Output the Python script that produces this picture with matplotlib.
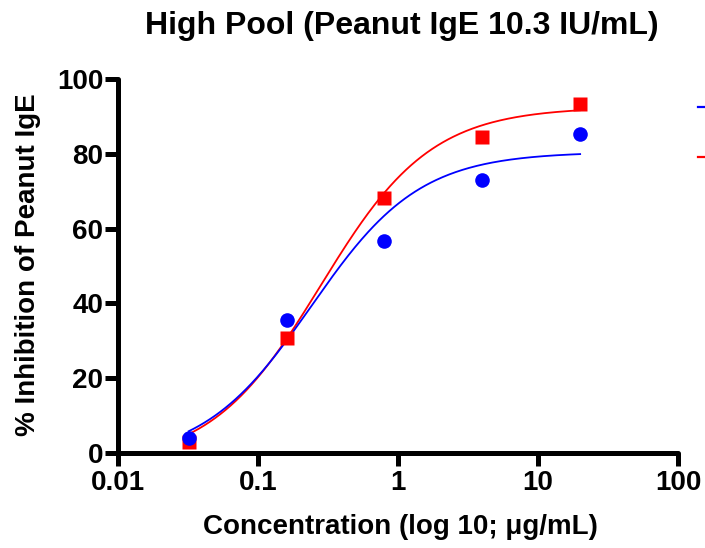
import numpy as np
import matplotlib
matplotlib.use("Agg")
import matplotlib.pyplot as plt
from matplotlib.lines import Line2D

plt.rcParams['font.family'] = ['Liberation Sans', 'DejaVu Sans']
plt.rcParams['font.weight'] = 'bold'

# Concentrations (µg/mL) and % inhibition
conc = [0.032, 0.16, 0.8, 4, 20]
blue_inhib = [4.0, 35.5, 56.7, 73.1, 85.4]
red_inhib = [3.0, 30.7, 68.3, 84.6, 93.3]

# Four-parameter logistic fit parameters: bottom, top, EC50, Hill slope
blue_fit = [-2.0, 80.5, 0.24, 1.12]
red_fit = [-3.0, 92.5, 0.28, 1.1]

x_ticks = [0.01, 0.1, 1, 10, 100]
x_ticklabels = ['0.01', '0.1', '1', '10', '100']
y_ticks = [0, 20, 40, 60, 80, 100]

title = 'High Pool (Peanut IgE 10.3 IU/mL)'
xlabel = 'Concentration (log 10; μg/mL)'
ylabel = '% Inhibition of Peanut IgE'


def four_pl(x, bottom, top, ec50, hill):
    return bottom + (top - bottom) / (1 + (ec50 / x) ** hill)


W, H = 705, 548
fig = plt.figure(figsize=(W / 100, H / 100), dpi=100)
ax = fig.add_axes([118 / W, 1 - 453 / H, 560 / W, 374 / H])

xs = np.logspace(np.log10(conc[0]), np.log10(conc[-1]), 300)
ax.plot(xs, four_pl(xs, *red_fit), color='#ff0000', lw=1.3, zorder=2)
ax.plot(xs, four_pl(xs, *blue_fit), color='#0000ff', lw=1.3, zorder=2)
ax.plot(conc, red_inhib, 's', color='#ff0000', ms=10.5, mec='none',
        zorder=3, clip_on=False)
ax.plot(conc, blue_inhib, 'o', color='#0000ff', ms=10.5, mec='none',
        zorder=4, clip_on=False)

ax.set_xscale('log')
ax.set_xlim(0.01, 100)
ax.set_ylim(0, 100)
ax.set_xticks(x_ticks)
ax.set_xticklabels(x_ticklabels)
ax.minorticks_off()
ax.set_yticks(y_ticks)

for side in ['top', 'right']:
    ax.spines[side].set_visible(False)
for side in ['left', 'bottom']:
    ax.spines[side].set_linewidth(3.6)
    ax.spines[side].set_capstyle('round')
ax.tick_params(axis='both', which='major', width=3.6, length=9.5,
               labelsize=20)
ax.tick_params(axis='x', pad=3)
ax.tick_params(axis='y', pad=1)

fig.text(402 / W, 1 - 26 / H, title, fontsize=23, fontweight='bold',
         ha='center', va='center')
fig.text(400 / W, 1 - 527 / H, xlabel, fontsize=20, fontweight='bold',
         ha='center', va='center')
fig.text(28 / W, 1 - 265 / H, ylabel, fontsize=20, fontweight='bold',
         ha='center', va='center', rotation=90)

# Legend line stubs at the right edge
for yy, col in [(107, '#0000ff'), (157, '#ff0000')]:
    fig.add_artist(Line2D([698 / W, 1.0], [1 - yy / H, 1 - yy / H],
                          color=col, lw=1.6, transform=fig.transFigure))

fig.savefig('out.png', dpi=100)
